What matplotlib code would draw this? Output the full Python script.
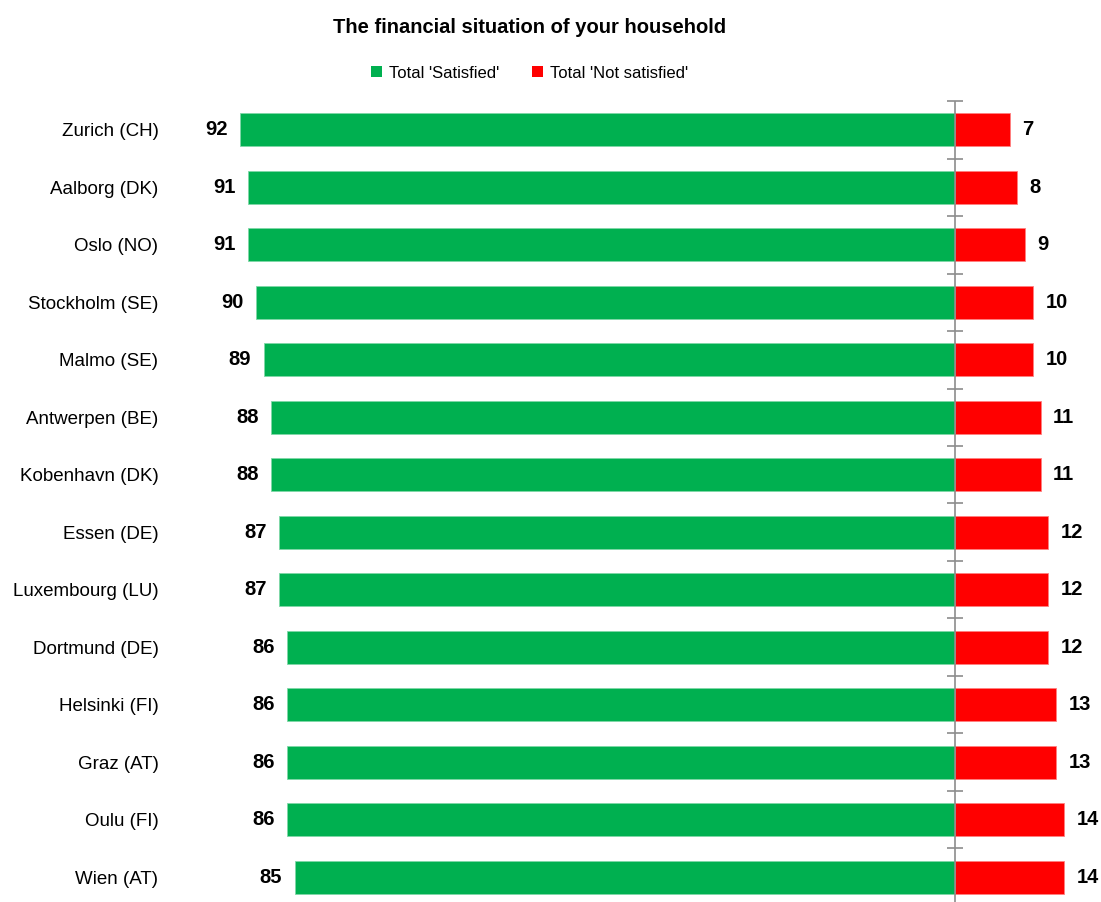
import numpy as np
import matplotlib.pyplot as plt
from matplotlib.patches import Patch

plt.rcParams['font.family'] = ['Liberation Sans', 'DejaVu Sans']

cities = ['Zurich (CH)', 'Aalborg (DK)', 'Oslo (NO)', 'Stockholm (SE)', 'Malmo (SE)',
          'Antwerpen (BE)', 'Kobenhavn (DK)', 'Essen (DE)', 'Luxembourg (LU)',
          'Dortmund (DE)', 'Helsinki (FI)', 'Graz (AT)', 'Oulu (FI)', 'Wien (AT)']
satisfied = [92, 91, 91, 90, 89, 88, 88, 87, 87, 86, 86, 86, 86, 85]
not_satisfied = [7, 8, 9, 10, 10, 11, 11, 12, 12, 12, 13, 13, 14, 14]

green = '#00B050'
red = '#FF0000'

fig = plt.figure(figsize=(11.01, 9.02), dpi=100)
ax = fig.add_axes([0.159, -0.0044, 0.8356, 0.8924])

y = np.arange(len(cities))
ax.barh(y, [-v for v in satisfied], height=0.57, color=green, edgecolor='#7fd8a7', linewidth=0.6)
ax.barh(y, not_satisfied, height=0.57, color=red, edgecolor='#ff8080', linewidth=0.6)

# value labels
for yi, s, n in zip(y, satisfied, not_satisfied):
    ax.text(-s - 1.6, yi, str(s), ha='right', va='center', fontsize=14.5, fontweight='bold')
    ax.text(n + 1.6, yi, str(n), ha='left', va='center', fontsize=14.5, fontweight='bold')

# centre axis with category-boundary ticks
ax.axvline(0, color='#8c8c8c', lw=1.2)
bounds = np.arange(len(cities) + 1) - 0.5
ax.plot(np.zeros_like(bounds), bounds, ls='none', marker='_', ms=11, mew=1.2,
        color='#8c8c8c', clip_on=False)

ax.set_xlim(-100.4, 18.0)
ax.set_ylim(len(cities) - 0.5, -0.5)
ax.set_yticks(y)
ax.set_yticklabels(cities, fontsize=13.5)
ax.tick_params(axis='y', length=0, pad=12)
ax.set_xticks([])
for sp in ax.spines.values():
    sp.set_visible(False)

fig.text(0.481, 0.969, 'The financial situation of your household', ha='center', va='center',
         fontsize=14.5, fontweight='bold')

handles = [Patch(facecolor=green, label="Total 'Satisfied'"),
           Patch(facecolor=red, label="Total 'Not satisfied'")]
fig.legend(handles=handles, loc='center', bbox_to_anchor=(0.481, 0.919), ncol=2, frameon=False,
           fontsize=12, handlelength=0.65, handleheight=0.65, handletextpad=0.4, columnspacing=2.0)

fig.savefig('out.png', dpi=100)
